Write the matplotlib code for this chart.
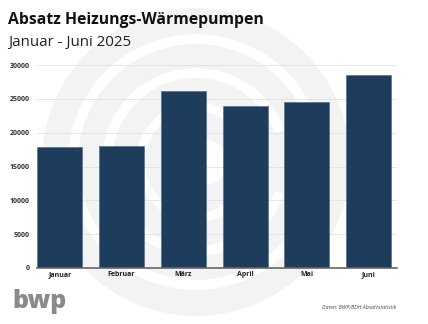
import matplotlib
matplotlib.use("Agg")
import matplotlib.pyplot as plt
from matplotlib.patches import Wedge, Circle

months = ["Januar", "Februar", "März", "April", "Mai", "Juni"]
values = [17900, 18100, 26150, 23900, 24550, 28450]
yticks = [0, 5000, 10000, 15000, 20000, 25000, 30000]

W, H = 428, 324
fig = plt.figure(figsize=(W / 100, H / 100), dpi=100)
fig.patch.set_facecolor("white")

# watermark rings (figure pixel coords)
bg = fig.add_axes([0, 0, 1, 1], zorder=0)
bg.set_xlim(0, W)
bg.set_ylim(H, 0)
bg.axis("off")
cx, cy = 196, 162
ring = "#f3f3f3"
bg.add_patch(Circle((cx, cy), 154, color=ring, lw=0))
for r_out, r_in, t1, t2 in [(128, 118, -40, 320), (94, 84, 20, 340), (60, 51, -80, 250)]:
    bg.add_patch(Wedge((cx, cy), r_out, t1, t2, width=r_out - r_in, color="white", lw=0))
bg.add_patch(Circle((cx + 10, cy), 22, color="white", lw=0))

ax = fig.add_axes([37 / W, 1 - 268 / H, (397 - 37) / W, (268 - 65) / H], zorder=1)
ax.patch.set_alpha(0)
x = range(len(months))
ax.bar(x, values, width=0.73, color="#1e3c5c", edgecolor="#4a6580", linewidth=0.4, zorder=3)
ax.set_xlim(-0.37, 5.46)
ax.set_ylim(0, 30000)
ax.set_yticks(yticks)
ax.set_yticklabels([str(v) for v in yticks], fontsize=5, fontweight="bold", color="#333333",
                   family="Open Sans")
ax.set_xticks(list(x))
ax.set_xticklabels(months, fontsize=5, fontweight="bold", color="#222222", family="Open Sans")
ax.tick_params(axis="y", length=0, pad=5)
ax.tick_params(axis="x", length=0, pad=2.5)
ax.grid(axis="y", color="#e2e2e2", linewidth=0.6, zorder=0)
for s in ["top", "right", "left"]:
    ax.spines[s].set_visible(False)
ax.spines["bottom"].set_color("#666666")
ax.spines["bottom"].set_linewidth(1.2)
ax.spines["bottom"].set_zorder(4)

fig.text(8 / W, 1 - 24 / H, "Absatz Heizungs-Wärmepumpen", fontsize=11.3, fontweight="bold",
         color="#111111", family="Open Sans", va="baseline")
fig.text(8 / W, 1 - 46 / H, "Januar - Juni 2025", fontsize=10.8, color="#222222",
         family="Open Sans", va="baseline")
fig.text(396 / W, 1 - 309 / H, "Daten: BWP/BDH Absatzstatistik", fontsize=3.8, style="italic",
         color="#444444", family="Open Sans", ha="right", va="baseline")
fig.text(12 / W, 1 - 308 / H, "bwp", fontsize=18, fontweight=800, color="#8a8a8a",
         family="Open Sans", va="baseline")

fig.savefig("out.png", dpi=100, facecolor="white")
